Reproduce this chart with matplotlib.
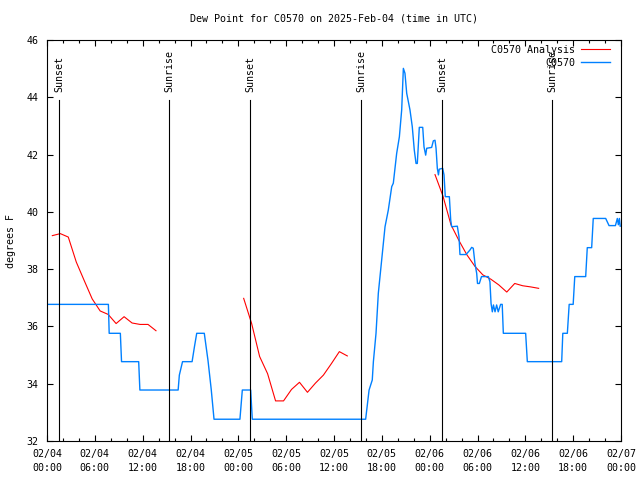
import matplotlib
matplotlib.use("Agg")
import matplotlib.pyplot as plt
import matplotlib.dates as mdates
import numpy as np
import pandas as pd

START = pd.Timestamp("2025-02-04 00:00")

# analysis (red), hours since 02/04 00:00 UTC, three runs
anl_hours_a = [0.67, 1.67, 2.67, 3.67, 4.67, 5.67, 6.67, 7.67, 8.67, 9.67, 10.67, 11.67, 12.67, 13.67]
anl_vals_a = [39.17, 39.24, 39.12, 38.25, 37.60, 36.96, 36.54, 36.42, 36.10, 36.34, 36.12, 36.07, 36.07, 35.85]
anl_hours_b = [24.67, 25.67, 26.67, 27.67, 28.67, 29.67, 30.67, 31.67, 32.67, 33.67, 34.67, 35.67, 36.67, 37.67]
anl_vals_b = [36.98, 36.10, 34.95, 34.35, 33.40, 33.40, 33.80, 34.05, 33.70, 34.02, 34.30, 34.70, 35.12, 34.97]
anl_hours_c = [48.67, 49.67, 50.67, 51.67, 52.67, 53.67, 54.67, 55.67, 56.67, 57.67, 58.67, 59.67, 60.67, 61.67]
anl_vals_c = [41.30, 40.55, 39.55, 39.00, 38.50, 38.10, 37.80, 37.65, 37.45, 37.20, 37.50, 37.42, 37.38, 37.33]

# station obs (blue)
obs_hours = [0, 7.7, 7.8, 9.2, 9.35, 11.5, 11.65, 16.45, 16.6, 17.0, 18.2, 18.5, 18.78, 19.73,
             20.2, 20.6, 20.95, 24.2, 24.5, 25.55, 25.75, 39.97, 40.4, 40.8, 40.94, 41.27, 41.56,
             41.98, 42.4, 42.81, 43.24, 43.44, 43.86, 44.2, 44.49, 44.7, 44.9, 45.12, 45.53, 45.82,
             46.07, 46.29, 46.45, 46.7, 47.13, 47.29, 47.5, 47.63, 48.25, 48.46, 48.67, 48.8, 48.96,
             49.1, 49.2, 49.63, 49.8, 49.96, 50.47, 50.64, 50.76, 51.47, 51.68, 51.8, 52.56, 53.06,
             53.27, 53.47, 53.68, 53.9, 54.0, 54.23, 54.5, 55.36, 55.56, 55.7, 55.86, 56.0, 56.2,
             56.4, 56.6, 56.9, 57.1, 57.24, 60.04, 60.25, 64.56, 64.7, 65.27, 65.5, 66.0, 66.2,
             67.57, 67.77, 68.32, 68.52, 70.08, 70.5, 71.3, 71.54, 71.67, 71.8, 71.9]
obs_vals = [36.77, 36.77, 35.76, 35.76, 34.77, 34.77, 33.78, 33.78, 34.3, 34.77, 34.77, 35.3, 35.76, 35.76,
            34.8, 33.8, 32.76, 32.76, 33.78, 33.78, 32.76, 32.76, 33.78, 34.13, 34.77, 35.76, 37.16,
            38.32, 39.48, 40.06, 40.88, 41.0, 42.04, 42.62, 43.56, 45.01, 44.84, 44.14, 43.56, 42.97,
            42.16, 41.69, 41.69, 42.95, 42.95, 42.27, 41.98, 42.22, 42.25, 42.48, 42.5, 42.22, 41.52,
            41.29, 41.49, 41.52, 41.29, 40.53, 40.53, 39.71, 39.48, 39.5, 39.13, 38.51, 38.51, 38.67,
            38.76, 38.73, 38.2, 37.85, 37.5, 37.5, 37.74, 37.74, 37.56, 36.8, 36.51, 36.75, 36.51,
            36.75, 36.51, 36.77, 36.77, 35.76, 35.76, 34.77, 34.77, 35.76, 35.76, 36.77, 36.77, 37.74,
            37.74, 38.75, 38.75, 39.77, 39.77, 39.52, 39.52, 39.77, 39.55, 39.77, 39.5]

sun_hours = [1.51, 15.30, 25.46, 39.39, 49.55, 63.35]
sun_labels = ["Sunset", "Sunrise", "Sunset", "Sunrise", "Sunset", "Sunrise"]


def to_time(hours):
    return START + pd.to_timedelta(hours, unit="h")


plt.rcParams["font.family"] = "DejaVu Sans Mono"
plt.rcParams["font.size"] = 7.2

fig = plt.figure(figsize=(6.4, 4.8), dpi=100)
ax = fig.add_axes([47 / 640, 39 / 480, 574 / 640, 401 / 480])

red = "#ff0000"
blue = "#0080ff"
ax.plot(to_time(anl_hours_a), anl_vals_a, color=red, lw=0.8, label="C0570 Analysis")
ax.plot(to_time(anl_hours_b), anl_vals_b, color=red, lw=0.8)
ax.plot(to_time(anl_hours_c), anl_vals_c, color=red, lw=0.8)
ax.plot(to_time(obs_hours), obs_vals, color=blue, lw=1.0, label="C0570")

# sunrise / sunset markers
for h, lab in zip(sun_hours, sun_labels):
    t = to_time(h)
    ax.axvline(t, ymin=0, ymax=0.85, color="black", lw=0.8)
    ax.text(t, 0.87, lab, transform=ax.get_xaxis_transform(), rotation=90,
            ha="center", va="bottom")

ax.set_xlim(START, START + pd.Timedelta(hours=72))
ax.set_ylim(32, 46)
ax.set_yticks(np.arange(32, 47, 2))
ax.xaxis.set_major_locator(mdates.HourLocator(byhour=[0, 6, 12, 18]))
ax.xaxis.set_minor_locator(mdates.HourLocator(byhour=range(0, 24, 2)))
ax.xaxis.set_major_formatter(mdates.DateFormatter("%m/%d\n%H:%M"))
for lbl in ax.get_xticklabels():
    lbl.set_linespacing(1.5)

ax.tick_params(which="both", direction="in", top=True, right=True, width=0.8)
ax.tick_params(which="major", length=4)
ax.tick_params(which="minor", length=2.2)
ax.tick_params(axis="x", pad=6)
ax.tick_params(axis="y", pad=6)
for s in ax.spines.values():
    s.set_linewidth(0.8)

ax.set_ylabel("degrees F", labelpad=8)
ax.set_title("Dew Point for C0570 on 2025-Feb-04 (time in UTC)", fontsize=7.2, pad=13)

ax.legend(loc="upper right", bbox_to_anchor=(1 - 11 / 574, 1 - 5 / 401), frameon=False,
          markerfirst=False, borderaxespad=0, borderpad=0, handlelength=2.9,
          handletextpad=0.6, labelspacing=0.3)

fig.savefig("out.png", dpi=100)
